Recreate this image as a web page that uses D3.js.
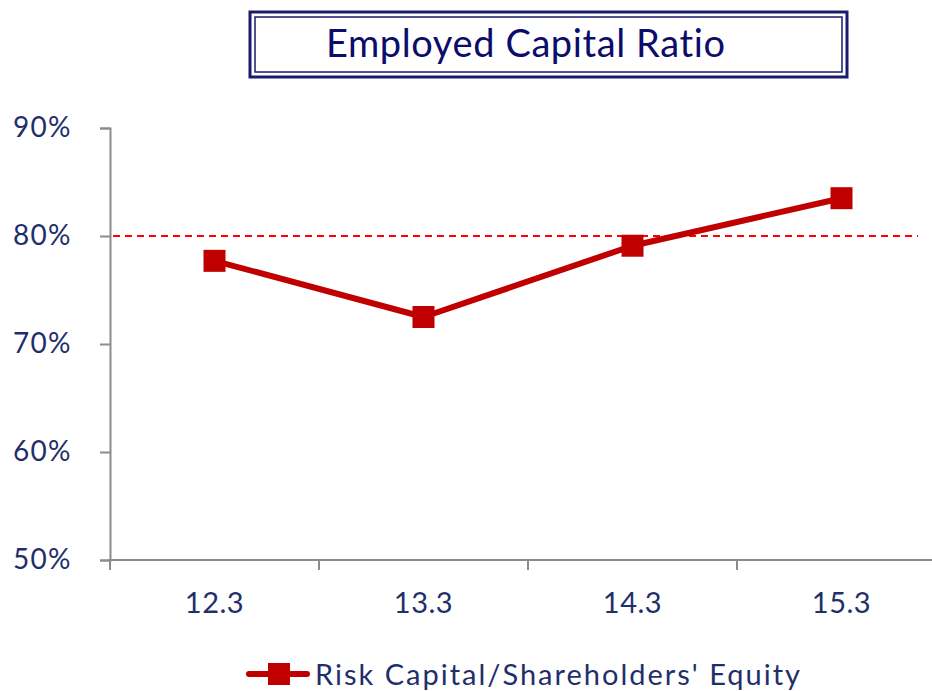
<!DOCTYPE html>
<html>
<head>
<meta charset="utf-8">
<script src="https://cdn.jsdelivr.net/npm/d3@7"></script>
<style>
  body { margin: 0; background: #fff; }
  svg { font-family: Lato, "Noto Sans", sans-serif; }
</style>
</head>
<body>
<svg id="chart" width="932" height="691"></svg>
<script>
const categories = ['12.3', '13.3', '14.3', '15.3'];
const ratios = [77.7, 72.5, 79.1, 83.5];
const yTicks = [50, 60, 70, 80, 90];
const targetLine = 80;
const seriesName = "Risk Capital/Shareholders' Equity";
const chartTitle = 'Employed Capital Ratio';

const svg = d3.select('#chart');
const navy = '#1f2f6b';

// plot area
const plotLeft = 110, plotTop = 128, plotBottom = 560, band = 209;

const x = d3.scaleBand()
  .domain(categories)
  .range([plotLeft, plotLeft + band * categories.length]);

const y = d3.scaleLinear()
  .domain([50, 90])
  .range([plotBottom, plotTop]);

// title box with double border
const tb = svg.append('g');
tb.append('rect')
  .attr('x', 250).attr('y', 12).attr('width', 597).attr('height', 65)
  .attr('fill', '#fff').attr('stroke', '#1a1a6e').attr('stroke-width', 3);
tb.append('rect')
  .attr('x', 255).attr('y', 17).attr('width', 587).attr('height', 55)
  .attr('fill', 'none').attr('stroke', '#1a1a6e').attr('stroke-width', 1.5);
tb.append('text')
  .attr('x', 326).attr('y', 57)
  .attr('font-size', 38)
  .attr('letter-spacing', 0.6)
  .attr('fill', '#0c0c6a')
  .text(chartTitle);

// y axis
const yAxis = d3.axisLeft(y)
  .tickValues(yTicks)
  .tickSize(10)
  .tickPadding(36)
  .tickFormat(d => d + '%');

const gy = svg.append('g')
  .attr('transform', `translate(${plotLeft},0)`)
  .call(yAxis);
gy.select('.domain').attr('stroke', '#8c8c8c').attr('stroke-width', 2);
gy.selectAll('.tick line').attr('stroke', '#8c8c8c').attr('stroke-width', 2);
gy.selectAll('.tick text')
  .attr('font-size', 28)
  .attr('letter-spacing', 1.2)
  .attr('text-anchor', 'start')
  .attr('x', -97)
  .attr('fill', navy)
  .attr('font-family', 'Lato, sans-serif');

// x axis with ticks at band boundaries
const gx = svg.append('g')
  .attr('transform', `translate(0,${plotBottom})`);
gx.append('line')
  .attr('x1', plotLeft - 2).attr('x2', x.range()[1])
  .attr('stroke', '#8c8c8c').attr('stroke-width', 2);
gx.selectAll('line.tick')
  .data(categories)
  .join('line')
  .attr('class', 'tick')
  .attr('x1', d => x(d)).attr('x2', d => x(d))
  .attr('y1', 0).attr('y2', 10)
  .attr('stroke', '#8c8c8c').attr('stroke-width', 2);
gx.selectAll('text')
  .data(categories)
  .join('text')
  .attr('x', d => x(d) + x.bandwidth() / 2)
  .attr('y', 53)
  .attr('text-anchor', 'middle')
  .attr('font-size', 29)
  .attr('letter-spacing', 0.5)
  .attr('fill', navy)
  .text(d => d);

// 80% reference line
svg.append('line')
  .attr('x1', plotLeft + 3).attr('x2', 918)
  .attr('y1', y(targetLine)).attr('y2', y(targetLine))
  .attr('stroke', '#ff0000')
  .attr('stroke-width', 2)
  .attr('stroke-dasharray', '7,5');

// series line
const line = d3.line()
  .x((d, i) => x(categories[i]) + x.bandwidth() / 2)
  .y(d => y(d));

svg.append('path')
  .datum(ratios)
  .attr('d', line)
  .attr('fill', 'none')
  .attr('stroke', '#c00000')
  .attr('stroke-width', 6)
  .attr('stroke-linejoin', 'round');

const ms = 22;
svg.selectAll('rect.marker')
  .data(ratios)
  .join('rect')
  .attr('class', 'marker')
  .attr('x', (d, i) => x(categories[i]) + x.bandwidth() / 2 - ms / 2)
  .attr('y', d => y(d) - ms / 2)
  .attr('width', ms).attr('height', ms)
  .attr('fill', '#c00000');

// legend
const lg = svg.append('g').attr('transform', 'translate(247,674)');
lg.append('line')
  .attr('x1', 2).attr('x2', 60)
  .attr('stroke', '#c00000').attr('stroke-width', 6)
  .attr('stroke-linecap', 'round');
lg.append('rect')
  .attr('x', 21).attr('y', -11).attr('width', 22).attr('height', 22)
  .attr('fill', '#c00000');
lg.append('text')
  .attr('x', 68).attr('y', 11)
  .attr('font-size', 29)
  .attr('letter-spacing', 2)
  .attr('fill', navy)
  .text(seriesName);
</script>
</body>
</html>
